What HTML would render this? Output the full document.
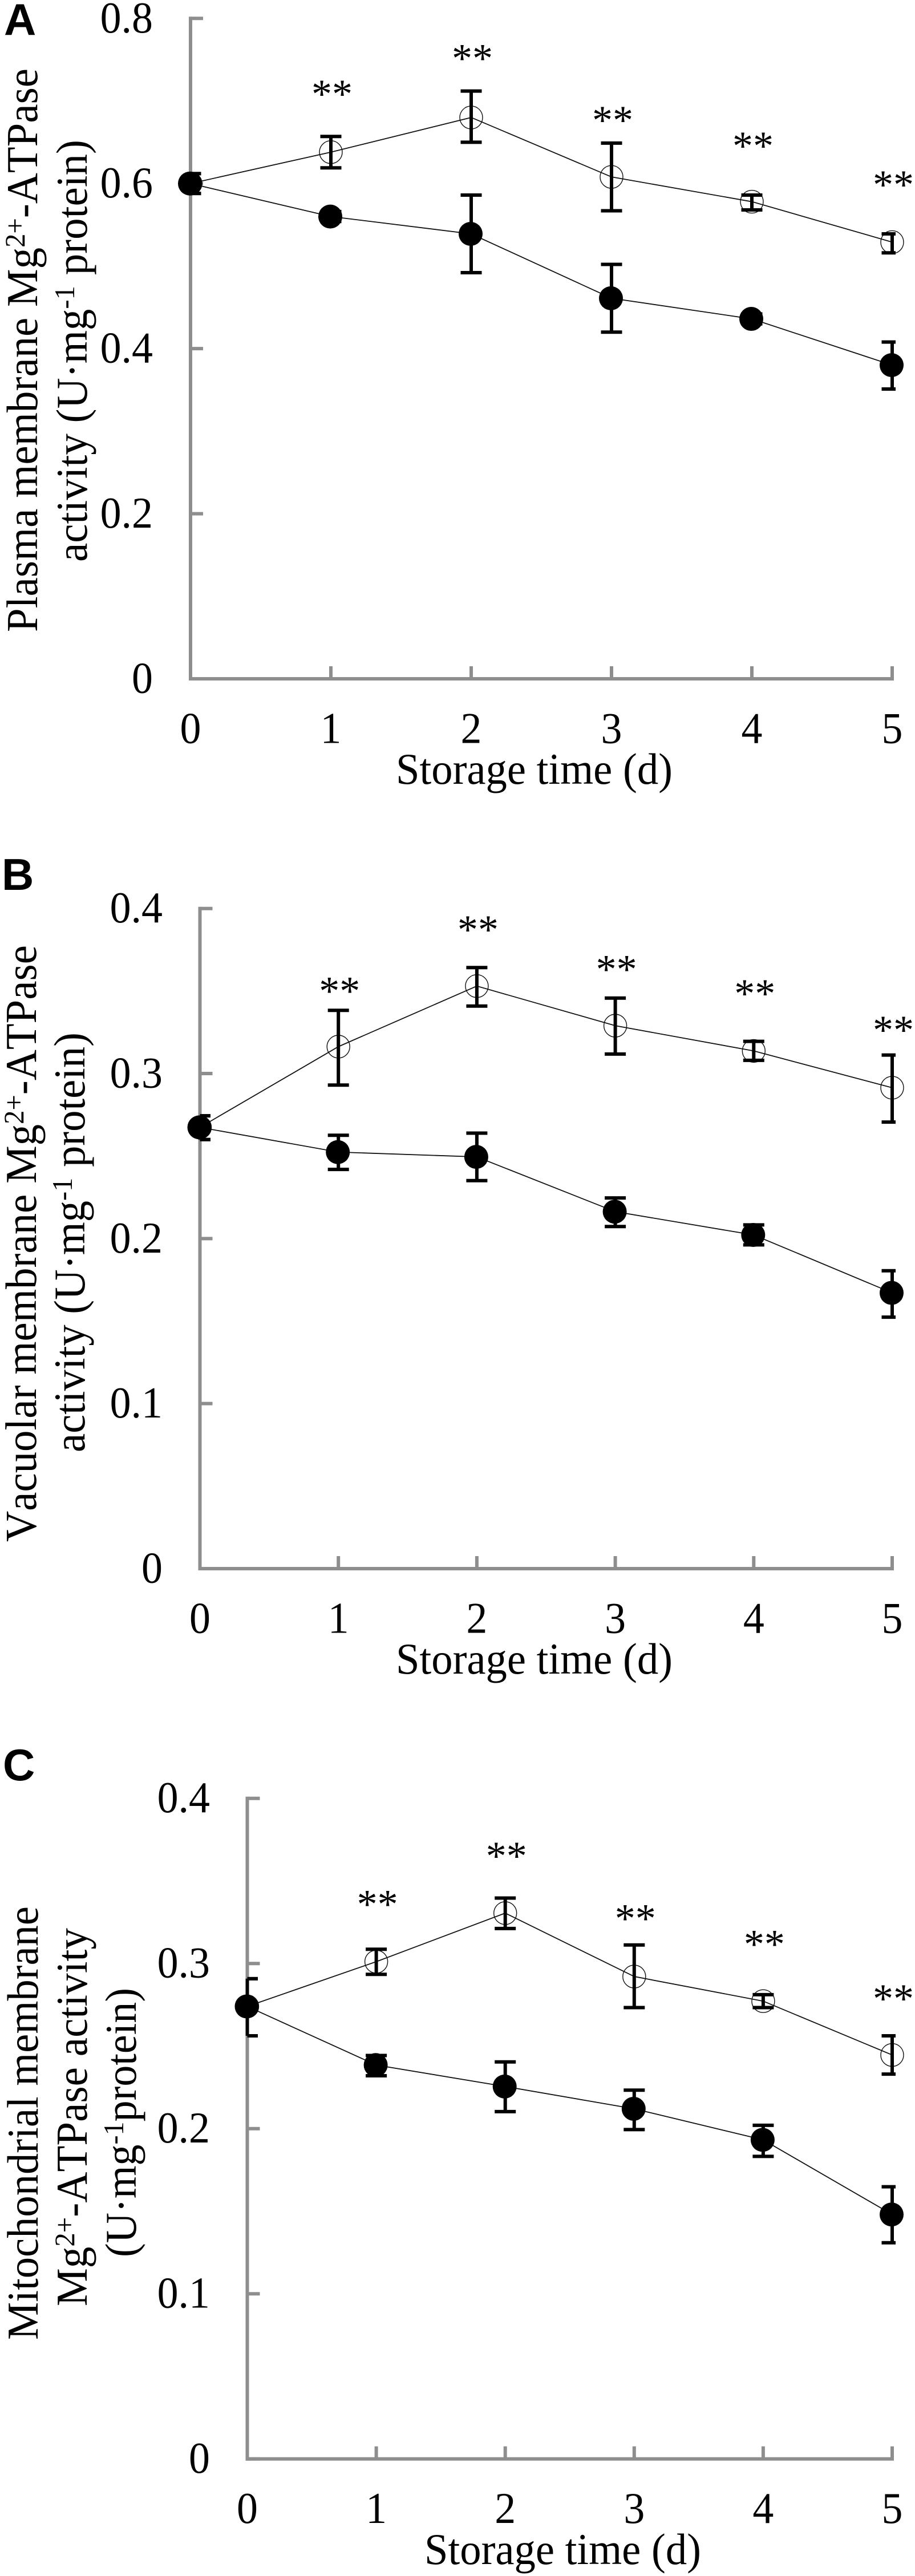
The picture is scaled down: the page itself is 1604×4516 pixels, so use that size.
<!DOCTYPE html>
<html lang="en">
<head>
<meta charset="utf-8">
<title>Mg2+-ATPase activity during storage</title>
<style>
html,body{margin:0;padding:0;background:#fff}
svg{display:block}
text{font-family:"Liberation Serif",serif;fill:#000;font-kerning:none}
.panel-letter{font-family:"Liberation Sans",sans-serif;font-weight:bold;font-size:78px}
.tick{font-size:77px}
.title{font-size:77px}
.star{font-size:72px}
</style>
</head>
<body>
<svg id="figure" xmlns="http://www.w3.org/2000/svg" width="1604" height="4516" viewBox="0 0 1604 4516">
  <rect x="0" y="0" width="1604" height="4516" fill="#fff"/>

  <g id="panel-a">
    <text class="panel-letter" x="7" y="61">A</text>
    <text class="title" transform="translate(65 1108) rotate(-90)" textLength="988" lengthAdjust="spacingAndGlyphs">Plasma membrane Mg<tspan dy="-22" font-size="50">2+</tspan><tspan dy="22">-ATPase</tspan></text>
    <text class="title" transform="translate(152 985) rotate(-90)" textLength="740" lengthAdjust="spacingAndGlyphs">activity (U·mg<tspan dy="-22" font-size="50">-1</tspan><tspan dy="22"> protein)</tspan></text>
    <text class="title" x="694" y="1374" textLength="485" lengthAdjust="spacingAndGlyphs">Storage time (d)</text>
  </g>

  <g id="panel-b">
    <text class="panel-letter" x="3" y="1560">B</text>
    <text class="title" transform="translate(63 2703) rotate(-90)" textLength="1046" lengthAdjust="spacingAndGlyphs">Vacuolar membrane Mg<tspan dy="-22" font-size="50">2+</tspan><tspan dy="22">-ATPase</tspan></text>
    <text class="title" transform="translate(148 2546) rotate(-90)" textLength="736" lengthAdjust="spacingAndGlyphs">activity (U·mg<tspan dy="-22" font-size="50">-1</tspan><tspan dy="22"> protein)</tspan></text>
    <text class="title" x="694" y="2934" textLength="485" lengthAdjust="spacingAndGlyphs">Storage time (d)</text>
  </g>

  <g id="panel-c">
    <text class="panel-letter" x="5" y="3121">C</text>
    <text class="title" transform="translate(66 4102) rotate(-90)" textLength="760" lengthAdjust="spacingAndGlyphs">Mitochondrial membrane</text>
    <text class="title" transform="translate(152 4043) rotate(-90)" textLength="663" lengthAdjust="spacingAndGlyphs">Mg<tspan dy="-22" font-size="50">2+</tspan><tspan dy="22">-ATPase activity</tspan></text>
    <text class="title" transform="translate(238 3957) rotate(-90)" textLength="472" lengthAdjust="spacingAndGlyphs">(U·mg<tspan dy="-22" font-size="50">-1</tspan><tspan dy="22">protein)</tspan></text>
    <text class="title" x="744" y="4495" textLength="485" lengthAdjust="spacingAndGlyphs">Storage time (d)</text>
  </g>
</svg>

<script>
// Shared categories
const days = [0, 1, 2, 3, 4, 5];
const dayLabels = ["0", "1", "2", "3", "4", "5"];

// Panel A: plasma membrane
const yTicksA = [0, 0.2, 0.4, 0.6, 0.8];
const yLabelsA = ["0", "0.2", "0.4", "0.6", "0.8"];
const openA = [0.6, 0.638, 0.68, 0.608, 0.578, 0.529];
const openHighA = [0.612, 0.657, 0.712, 0.649, 0.586, 0.539];
const openLowA = [0.588, 0.619, 0.65, 0.567, 0.568, 0.516];
const filledA = [0.6, 0.56, 0.539, 0.461, 0.436, 0.38];
const filledHighA = [0.612, 0.566, 0.586, 0.502, 0.442, 0.408];
const filledLowA = [0.588, 0.554, 0.492, 0.42, 0.43, 0.351];
const starsA = [0.714, 0.757, 0.682, 0.651, 0.604];

// Panel B: vacuolar membrane
const yTicksB = [0, 0.1, 0.2, 0.3, 0.4];
const yLabelsB = ["0", "0.1", "0.2", "0.3", "0.4"];
const openB = [0.2674, 0.3163, 0.353, 0.329, 0.3137, 0.2914];
const openHighB = [0.2744, 0.3383, 0.3642, 0.3457, 0.3195, 0.3112];
const openLowB = [0.26, 0.293, 0.3409, 0.3118, 0.308, 0.2706];
const filledB = [0.2674, 0.2524, 0.2495, 0.2163, 0.2022, 0.1671];
const filledHighB = [0.2744, 0.2626, 0.2639, 0.2246, 0.2083, 0.1805];
const filledLowB = [0.26, 0.2419, 0.2351, 0.2073, 0.1962, 0.1524];
const starsB = [0.3527, 0.3898, 0.3658, 0.3511, 0.3291];

// Panel C: mitochondrial membrane
const yTicksC = [0, 0.1, 0.2, 0.3, 0.4];
const yLabelsC = ["0", "0.1", "0.2", "0.3", "0.4"];
const openC = [0.274, 0.3011, 0.3305, 0.2921, 0.2772, 0.2446];
const openHighC = [0.2908, 0.3086, 0.3396, 0.3112, 0.2811, 0.2562];
const openLowC = [0.2562, 0.2934, 0.3212, 0.2733, 0.2733, 0.233];
const filledC = [0.274, 0.2385, 0.2255, 0.212, 0.1932, 0.148];
const filledHighC = [0.2908, 0.2443, 0.2404, 0.2233, 0.202, 0.1648];
const filledLowC = [0.2562, 0.232, 0.2103, 0.1994, 0.1832, 0.1309];
const starsC = [0.3386, 0.3677, 0.3299, 0.3144, 0.2814];

const NS = "http://www.w3.org/2000/svg";
const AXIS_COLOR = "#8e8e8e";

function drawPanel(name, groupId, frame, yTicks, yLabels, series) {
  const group = document.getElementById(groupId);
  const yMax = yTicks[yTicks.length - 1];
  const xMax = days[days.length - 1];
  const x = d => frame.left + (frame.right - frame.left) * d / xMax;
  const y = v => frame.bottom - (frame.bottom - frame.top) * v / yMax;

  function line(x1, y1, x2, y2, color, width, label) {
    const el = document.createElementNS(NS, "line");
    el.setAttribute("x1", x1);
    el.setAttribute("y1", y1);
    el.setAttribute("x2", x2);
    el.setAttribute("y2", y2);
    el.setAttribute("stroke", color);
    el.setAttribute("stroke-width", width);
    
    
    group.appendChild(el);
    return el;
  }

  function label(str, px, py, anchor, cls, labelName, xScale) {
    const el = document.createElementNS(NS, "text");
    el.setAttribute("transform", "translate(" + px + " " + py + ") scale(" + xScale + " 1)");
    el.setAttribute("text-anchor", anchor);
    el.setAttribute("class", cls);
    
    
    el.textContent = str;
    group.appendChild(el);
    return el;
  }

  // Axes
  line(frame.left, frame.top - 3, frame.left, frame.bottom + 3, AXIS_COLOR, 6, name + "-y-axis");
  line(frame.left - 3, frame.bottom, frame.right + 3, frame.bottom, AXIS_COLOR, 6, name + "-x-axis");

  yTicks.forEach((v, i) => {
    line(frame.left, y(v), frame.left + 22, y(v), AXIS_COLOR, 6, name + "-y-tick-" + yLabels[i]);
    label(yLabels[i], frame.labelRight, y(v) + 24.5, "end", "tick", name + "-y-tick-label-" + yLabels[i], 0.96);
  });

  days.forEach((d, i) => {
    line(x(d), frame.bottom, x(d), frame.bottom - 22, AXIS_COLOR, 6, name + "-x-tick-" + dayLabels[i]);
    label(dayLabels[i], x(d), frame.bottom + 112.5, "middle", "tick", name + "-x-tick-label-" + dayLabels[i], 0.96);
  });

  // Series lines
  [["open", series.open], ["filled", series.filled]].forEach(pair => {
    const el = document.createElementNS(NS, "polyline");
    el.setAttribute("points", days.map((d, i) => x(d) + "," + y(pair[1][i])).join(" "));
    el.setAttribute("fill", "none");
    el.setAttribute("stroke", "#111");
    el.setAttribute("stroke-width", "1.8");
    
    
    group.appendChild(el);
  });

  // Open markers
  days.forEach((d, i) => {
    const el = document.createElementNS(NS, "circle");
    el.setAttribute("cx", x(d));
    el.setAttribute("cy", y(series.open[i]));
    el.setAttribute("r", "20");
    el.setAttribute("fill", "none");
    el.setAttribute("stroke", "#111");
    el.setAttribute("stroke-width", "1.4");
    
    
    group.appendChild(el);
  });

  // Error bars (caps are cropped at the plot edges in the source figure)
  function errorBars(kind, high, low) {
    days.forEach((d, i) => {
      const cx = x(d);
      const capL = Math.max(cx - 18.5, frame.left);
      const capR = Math.min(cx + 18.5, frame.right + 6);
      line(cx, y(high[i]), cx, y(low[i]), "#000", 6, name + "-" + kind + "-error-stem-day-" + dayLabels[i]);
      line(capL, y(high[i]), capR, y(high[i]), "#000", 6, name + "-" + kind + "-error-cap-high-day-" + dayLabels[i]);
      line(capL, y(low[i]), capR, y(low[i]), "#000", 6, name + "-" + kind + "-error-cap-low-day-" + dayLabels[i]);
    });
  }
  errorBars("open", series.openHigh, series.openLow);
  errorBars("filled", series.filledHigh, series.filledLow);

  // Filled markers
  days.forEach((d, i) => {
    const el = document.createElementNS(NS, "circle");
    el.setAttribute("cx", x(d) - 1);
    el.setAttribute("cy", y(series.filled[i]));
    el.setAttribute("r", "21");
    el.setAttribute("fill", "#000");
    
    
    group.appendChild(el);
  });

  // Significance stars
  series.stars.forEach((v, i) => {
    label("**", x(days[i + 1]) + 2, y(v) + 32, "middle", "star", name + "-significance-day-" + dayLabels[i + 1], 1);
  });
}

drawPanel("panel-a", "panel-a",
  { left: 334, right: 1564, top: 32.3, bottom: 1190, labelRight: 268 },
  yTicksA, yLabelsA,
  { open: openA, openHigh: openHighA, openLow: openLowA, filled: filledA, filledHigh: filledHighA, filledLow: filledLowA, stars: starsA });

drawPanel("panel-b", "panel-b",
  { left: 350.5, right: 1564, top: 1592.7, bottom: 2750, labelRight: 285 },
  yTicksB, yLabelsB,
  { open: openB, openHigh: openHighB, openLow: openLowB, filled: filledB, filledHigh: filledHighB, filledLow: filledLowB, stars: starsB });

drawPanel("panel-c", "panel-c",
  { left: 433.5, right: 1564, top: 3152.7, bottom: 4310.7, labelRight: 368 },
  yTicksC, yLabelsC,
  { open: openC, openHigh: openHighC, openLow: openLowC, filled: filledC, filledHigh: filledHighC, filledLow: filledLowC, stars: starsC });
</script>
</body>
</html>
